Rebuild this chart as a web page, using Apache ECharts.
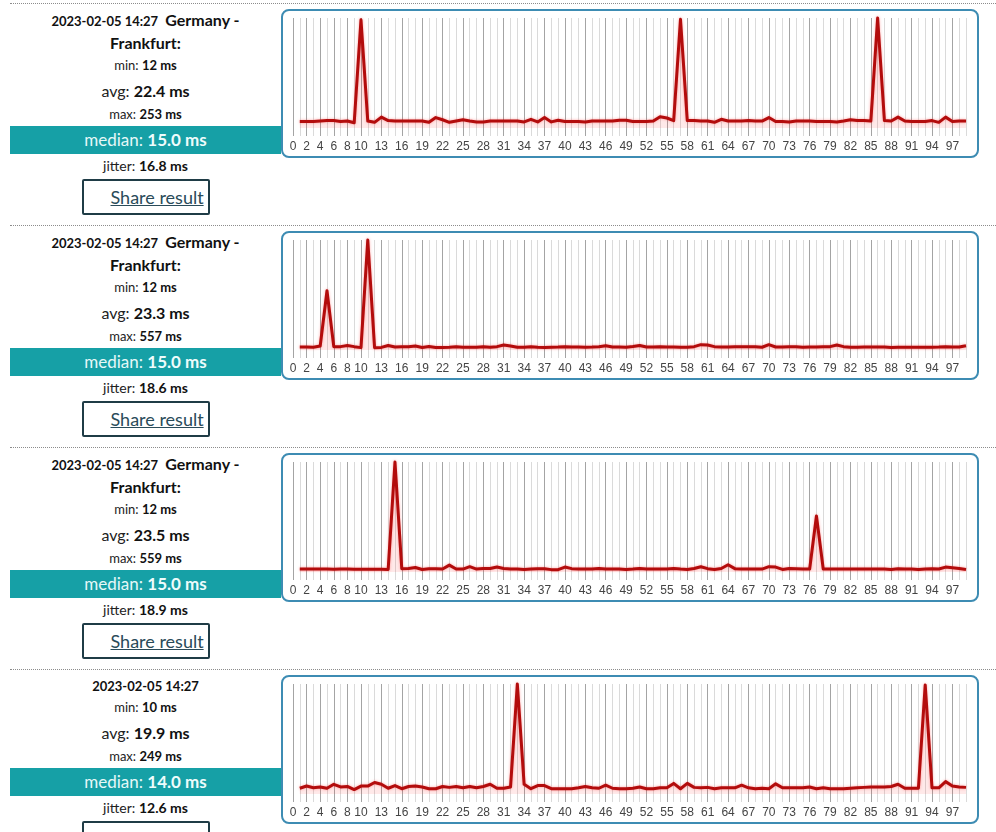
<!DOCTYPE html>
<html>
<head>
<meta charset="utf-8">
<title>Ping results</title>
<script src="https://cdn.jsdelivr.net/npm/echarts@6/dist/echarts.min.js"></script>
<style>
  html, body { margin: 0; width: 996px; height: 832px; overflow: hidden; background: #fff; }
  body { font-family: Lato, "Open Sans", sans-serif; color: #222; position: relative; }
  .panel { position: absolute; left: 10px; width: 986px; height: 221px; border-top: 1px dotted #8c8c8c; }
  .info { position: absolute; left: 0; top: 0; width: 271px; text-align: center; }
  .title { margin-top: 5px; line-height: 22px; font-size: 13px; font-weight: bold; color: #111; }
  .title .loc { font-size: 16px; margin-left: 4px; }
  .title .loc2 { font-size: 16px; }
  .min, .max { font-size: 13px; }
  .min { line-height: 21px; }
  .avg { font-size: 16px; line-height: 30px; }
  .max { line-height: 16px; }
  .info b { color: #111; }
  .med { margin-top: 4px; height: 28px; line-height: 28px; background: #16a0a6; color: #e6f8f8; font-size: 17px; }
  .med b { color: #eefcfc; }
  .jit { font-size: 14px; line-height: 24px; }
  .btn { margin: 1px auto 0; width: 124px; height: 32px; border: 2px solid #1f3c46; border-radius: 2px;
         text-align: left; box-sizing: content-box; }
  .btn span { display: block; padding-left: 27px; line-height: 32px; font-size: 18px; color: #2a4b59; text-decoration: underline; }
  .box { position: absolute; left: 271px; top: 5px; width: 694px; height: 145px;
         border: 2px solid #3d8cb3; border-radius: 8px; }
  .chart { width: 694px; height: 145px; }
</style>
</head>
<body>

<div class="panel" style="top:3px">
  <div class="info">
    <div class="title">2023-02-05 14:27 <span class="loc">Germany -</span><br><span class="loc2">Frankfurt:</span></div>
    <div class="min">min: <b>12 ms</b></div>
    <div class="avg">avg: <b>22.4 ms</b></div>
    <div class="max">max: <b>253 ms</b></div>
    <div class="med">median: <b>15.0 ms</b></div>
    <div class="jit">jitter: <b>16.8 ms</b></div>
    <div class="btn"><span>Share result</span></div>
  </div>
  <div class="box"><div class="chart" id="c1"></div></div>
</div>

<div class="panel" style="top:225px">
  <div class="info">
    <div class="title">2023-02-05 14:27 <span class="loc">Germany -</span><br><span class="loc2">Frankfurt:</span></div>
    <div class="min">min: <b>12 ms</b></div>
    <div class="avg">avg: <b>23.3 ms</b></div>
    <div class="max">max: <b>557 ms</b></div>
    <div class="med">median: <b>15.0 ms</b></div>
    <div class="jit">jitter: <b>18.6 ms</b></div>
    <div class="btn"><span>Share result</span></div>
  </div>
  <div class="box"><div class="chart" id="c2"></div></div>
</div>

<div class="panel" style="top:447px">
  <div class="info">
    <div class="title">2023-02-05 14:27 <span class="loc">Germany -</span><br><span class="loc2">Frankfurt:</span></div>
    <div class="min">min: <b>12 ms</b></div>
    <div class="avg">avg: <b>23.5 ms</b></div>
    <div class="max">max: <b>559 ms</b></div>
    <div class="med">median: <b>15.0 ms</b></div>
    <div class="jit">jitter: <b>18.9 ms</b></div>
    <div class="btn"><span>Share result</span></div>
  </div>
  <div class="box"><div class="chart" id="c3"></div></div>
</div>

<div class="panel" style="top:669px">
  <div class="info">
    <div class="title">2023-02-05 14:27</div>
    <div class="min">min: <b>10 ms</b></div>
    <div class="avg">avg: <b>19.9 ms</b></div>
    <div class="max">max: <b>249 ms</b></div>
    <div class="med">median: <b>14.0 ms</b></div>
    <div class="jit">jitter: <b>12.6 ms</b></div>
    <div class="btn"><span>Share result</span></div>
  </div>
  <div class="box"><div class="chart" id="c4"></div></div>
</div>

<script>
// ping number 0..99, only these get a label
const categories = Array.from({ length: 100 }, (_, i) => String(i));
const tickLabels = [0, 2, 4, 6, 8, 10, 13, 16, 19, 22, 25, 28, 31, 34, 37, 40, 43, 46, 49,
  52, 55, 58, 61, 64, 67, 70, 73, 76, 79, 82, 85, 88, 91, 94, 97];

// ms per ping, pings 1..99
const ping1 = [15, 15, 15, 16, 17, 17, 15, 16, 12, 249,
  16, 13, 25, 17, 16, 16, 16, 16, 16, 13,
  24, 19, 13, 16, 19, 16, 14, 14, 16, 16,
  16, 16, 16, 14, 20, 14, 24, 14, 18, 15,
  15, 15, 14, 16, 16, 16, 16, 18, 18, 15,
  15, 15, 16, 26, 23, 17, 250, 17, 17, 16,
  16, 13, 20, 16, 16, 16, 17, 16, 16, 24,
  15, 15, 14, 16, 16, 16, 15, 15, 15, 14,
  16, 19, 17, 17, 16, 253, 17, 16, 25, 16,
  15, 15, 15, 17, 13, 25, 15, 16, 16];
const ping2 = [15, 15, 14, 20, 300, 17, 17, 23, 17, 12,
  557, 12, 13, 23, 15, 17, 17, 20, 13, 18,
  13, 13, 14, 17, 14, 14, 14, 17, 14, 17,
  25, 20, 14, 14, 17, 14, 13, 14, 15, 17,
  15, 15, 14, 15, 17, 22, 15, 15, 14, 18,
  23, 15, 15, 17, 15, 15, 14, 14, 17, 27,
  25, 17, 15, 15, 17, 17, 17, 17, 14, 27,
  15, 15, 17, 17, 14, 15, 15, 17, 17, 25,
  17, 14, 14, 15, 15, 15, 15, 13, 14, 14,
  14, 14, 14, 14, 15, 17, 15, 15, 22];
const ping3 = [15, 15, 15, 15, 15, 14, 15, 15, 14, 14,
  14, 14, 14, 13, 559, 17, 18, 23, 13, 17,
  17, 15, 35, 15, 15, 27, 15, 18, 18, 25,
  18, 15, 15, 13, 15, 17, 17, 12, 12, 25,
  17, 15, 15, 15, 18, 15, 15, 15, 13, 15,
  18, 15, 15, 15, 15, 18, 15, 13, 18, 27,
  17, 13, 18, 37, 17, 15, 15, 15, 15, 27,
  25, 13, 18, 17, 15, 15, 285, 15, 15, 15,
  15, 15, 15, 15, 15, 15, 15, 13, 17, 15,
  15, 13, 15, 17, 15, 25, 22, 18, 13];
const ping4 = [13, 18, 14, 16, 13, 22, 16, 17, 10, 18,
  18, 26, 22, 13, 19, 12, 17, 18, 16, 12,
  12, 17, 15, 17, 14, 17, 14, 17, 22, 13,
  13, 16, 249, 22, 12, 19, 19, 12, 12, 12,
  12, 14, 17, 14, 13, 20, 13, 12, 12, 13,
  16, 12, 12, 14, 14, 24, 12, 24, 15, 14,
  15, 12, 14, 14, 14, 20, 14, 12, 13, 12,
  23, 14, 14, 14, 14, 16, 12, 14, 12, 12,
  12, 13, 14, 15, 16, 16, 16, 17, 22, 13,
  13, 13, 247, 14, 14, 28, 18, 16, 15];

function labelled(index) {
  return tickLabels.indexOf(index) >= 0;
}

function drawPing(id, values) {
  const myChart = echarts.init(document.getElementById(id))
  myChart.setOption({
    animation: false,
    grid: { left: 10, right: 11, top: 7, bottom: 28 },
    xAxis: [
      {
        // light line for every ping
        type: 'category',
        position: 'bottom',
        data: categories,
        boundaryGap: false,
        axisLine: { show: false },
        axisTick: { show: true, interval: 0, length: 8, lineStyle: { color: '#dadada' } },
        axisLabel: { show: false },
        splitLine: { show: true, interval: 0, lineStyle: { color: '#dadada' } }
      },
      {
        // darker line + label on the labelled ones
        type: 'category',
        position: 'bottom',
        data: categories,
        boundaryGap: false,
        axisLine: { show: false },
        axisTick: { show: true, interval: labelled, length: 8, lineStyle: { color: '#a4a4a4' } },
        axisLabel: {
          interval: labelled,
          margin: 13,
          color: '#444',
          fontSize: 12,
          fontFamily: 'Liberation Sans, Arial, sans-serif'
        },
        splitLine: { show: true, interval: labelled, lineStyle: { color: '#a4a4a4' } }
      }
    ],
    yAxis: { type: 'value', min: 0, max: 'dataMax', show: false },
    series: [
      {
        type: 'line',
        xAxisIndex: 0,
        data: [null].concat(values),
        symbol: 'none',
        clip: false,
        silent: true,
        lineStyle: {
          color: '#b30c0c',
          width: 3,
          join: 'round',
          shadowColor: 'rgba(255,0,0,0.35)',
          shadowBlur: 3
        },
        areaStyle: { color: 'rgba(255,60,60,0.16)', origin: 'start' }
      }
    ]
  })
}

drawPing('c1', ping1)
drawPing('c2', ping2)
drawPing('c3', ping3)
drawPing('c4', ping4)
</script>
</body>
</html>
